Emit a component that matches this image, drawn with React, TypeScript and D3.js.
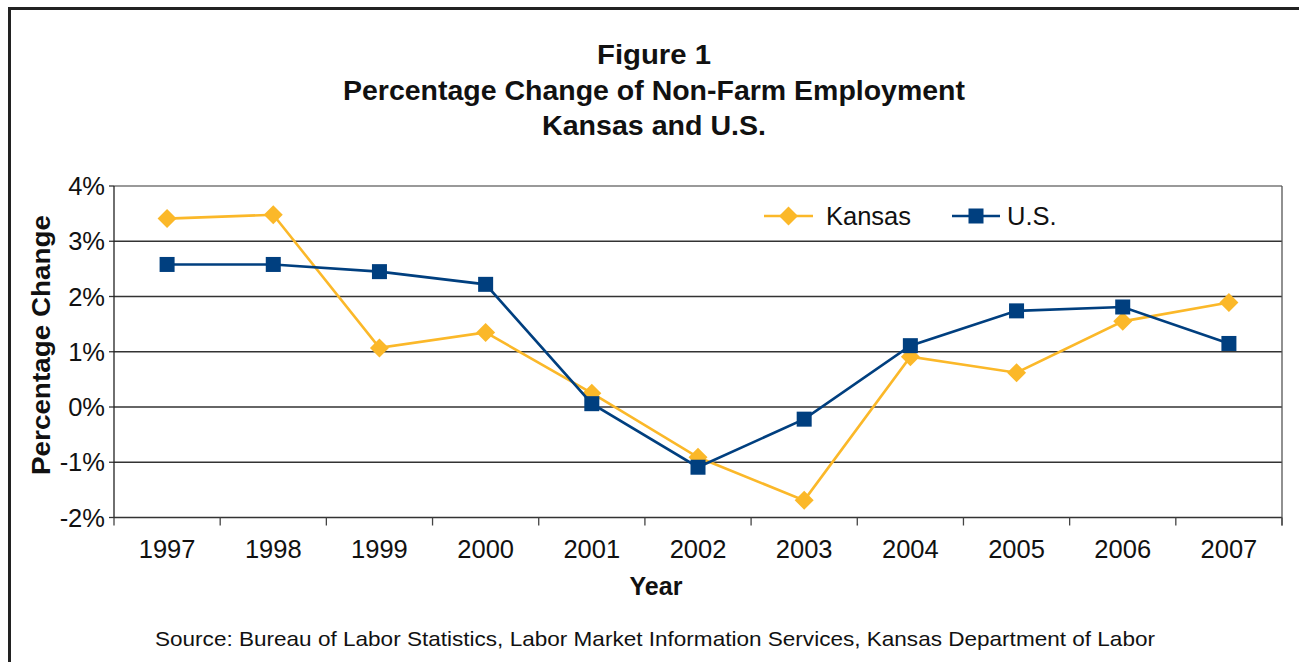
import React from "react";
import * as d3 from "d3";

const years = ["1997","1998","1999","2000","2001","2002","2003","2004","2005","2006","2007"];
const kansas = [3.41, 3.48, 1.07, 1.35, 0.25, -0.91, -1.69, 0.91, 0.62, 1.55, 1.89];
const us = [2.58, 2.58, 2.45, 2.22, 0.06, -1.09, -0.22, 1.11, 1.74, 1.81, 1.15];
const yTicks = [-2, -1, 0, 1, 2, 3, 4];
const titleLines = ["Figure 1", "Percentage Change of Non-Farm Employment", "Kansas and U.S."];
const titleWidths = [114, 622, 224];

const KC = "#FBB829";
const UC = "#003F7F";
const FONT = "'Liberation Sans', Arial, sans-serif";

export default function App() {
  const W = 1299, H = 662;
  const left = 114, right = 1282, top = 186, bottom = 517.5;
  const x = d3.scaleBand<string>().domain(years).range([left, right]);
  const y = d3.scaleLinear().domain([-2, 4]).range([bottom, top]);
  const cx = (d: string) => (x(d) as number) + x.bandwidth() / 2;
  const line = d3.line<number>().x((_, i) => cx(years[i])).y((v) => y(v));
  const bounds = [...years.map((d) => x(d) as number), right];
  const diamond = (px: number, py: number, r: number) =>
    `M${px},${py - r}L${px + r},${py}L${px},${py + r}L${px - r},${py}Z`;
  const sq = 15;

  return (
    <svg width={W} height={H} style={{ position: "absolute", left: 0, top: 0, background: "#fff" }} fontFamily={FONT}>
      <rect x={0} y={0} width={W} height={H} fill="#fff" />
      <path d={`M9.5,${H + 5}V8.5H${W + 5}`} fill="none" stroke="#222" strokeWidth={3} />
      {titleLines.map((t, i) => (
        <text key={t} x={654} y={64 + i * 35.5} textAnchor="middle" fontSize={27} fontWeight="bold" fill="#111"
          textLength={titleWidths[i]} lengthAdjust="spacingAndGlyphs">
          {t}
        </text>
      ))}
      {/* grid */}
      {yTicks.map((t) => (
        <g key={t}>
          <line x1={left} x2={right} y1={y(t)} y2={y(t)} stroke={t === 4 ? "#777" : "#333"} strokeWidth={1.3} />
          <line x1={left - 5} x2={left} y1={y(t)} y2={y(t)} stroke="#333" strokeWidth={1.3} />
          <text x={105} y={y(t) + 9} textAnchor="end" fontSize={25.5} fill="#111">{t}%</text>
        </g>
      ))}
      <line x1={left} x2={left} y1={top} y2={bottom} stroke="#222" strokeWidth={1.3} />
      <line x1={right} x2={right} y1={top} y2={bottom + 8} stroke="#555" strokeWidth={1.3} />
      {bounds.map((b, i) => (
        <line key={i} x1={b} x2={b} y1={bottom} y2={bottom + 8} stroke="#444" strokeWidth={1.3} />
      ))}
      {years.map((d) => (
        <text key={d} x={cx(d)} y={557.5} textAnchor="middle" fontSize={25.5} fill="#111">{d}</text>
      ))}
      <text x={656} y={595} textAnchor="middle" fontSize={25} fontWeight="bold" fill="#111">Year</text>
      <text transform="translate(50,345) rotate(-90)" textAnchor="middle" fontSize={26} fontWeight="bold" fill="#111"
        textLength={260} lengthAdjust="spacingAndGlyphs">
        Percentage Change
      </text>
      {/* series */}
      <path d={line(kansas) || ""} fill="none" stroke={KC} strokeWidth={2.6} />
      {kansas.map((v, i) => (
        <path key={i} d={diamond(cx(years[i]), y(v), 9.5)} fill={KC} />
      ))}
      <path d={line(us) || ""} fill="none" stroke={UC} strokeWidth={2.6} />
      {us.map((v, i) => (
        <rect key={i} x={cx(years[i]) - sq / 2} y={y(v) - sq / 2} width={sq} height={sq} fill={UC} />
      ))}
      {/* legend */}
      <line x1={764} x2={813} y1={216} y2={216} stroke={KC} strokeWidth={2.6} />
      <path d={diamond(788.5, 216, 9.5)} fill={KC} />
      <text x={826} y={224.5} fontSize={25.5} fill="#111">Kansas</text>
      <line x1={952} x2={1000} y1={216} y2={216} stroke={UC} strokeWidth={2.6} />
      <rect x={976 - sq / 2} y={216 - sq / 2} width={sq} height={sq} fill={UC} />
      <text x={1007} y={224.5} fontSize={25.5} fill="#111">U.S.</text>
      <text x={655} y={646} textAnchor="middle" fontSize={21} fill="#111" textLength={1000} lengthAdjust="spacingAndGlyphs">
        Source: Bureau of Labor Statistics, Labor Market Information Services, Kansas Department of Labor
      </text>
    </svg>
  );
}
